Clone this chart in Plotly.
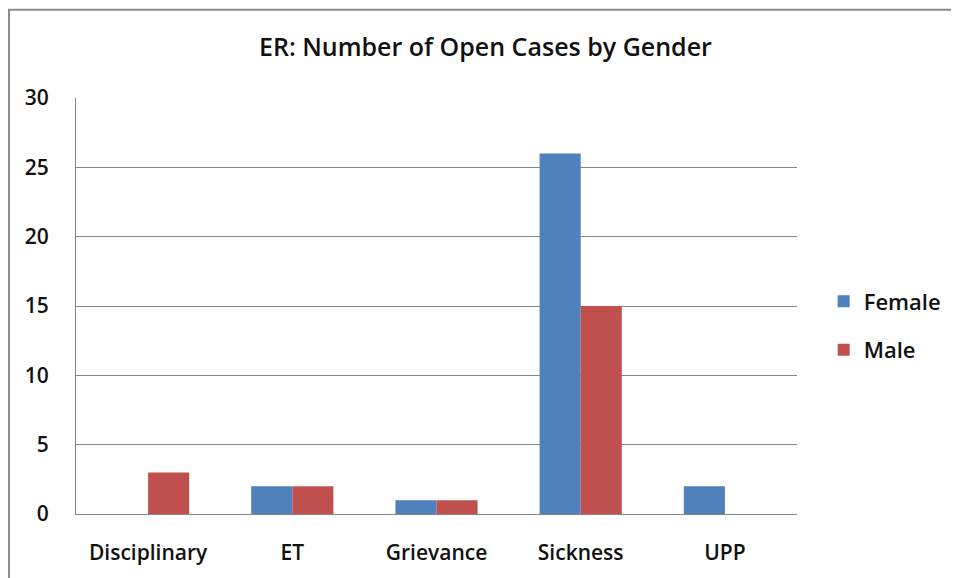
import plotly.graph_objects as go

categories = ['Disciplinary', 'ET', 'Grievance', 'Sickness', 'UPP']
female = [0, 2, 1, 26, 2]
male = [3, 2, 1, 15, 0]
y_ticks = [0, 5, 10, 15, 20, 25, 30]

font_family = "Open Sans, Noto Sans, sans-serif"

fig = go.Figure()
fig.add_trace(
    go.Bar(
        x=categories,
        y=female,
        name='Female',
        legendgroup='f',
        marker=dict(color='#4F81BD', line=dict(width=0)))
)
fig.add_trace(
    go.Bar(
        x=categories,
        y=male,
        name='Male',
        legendgroup='m',
        marker=dict(color='#C0504D', line=dict(width=0)))
)

# outer chart border (page has an 8px body margin, so figure is 951x570)
fig.add_shape(type='rect', xref='paper', yref='paper',
              x0=-0.0929, x1=1.3, y0=-0.3, y1=1.212,
              line=dict(color='#8c8c8c', width=2), layer='below')

fig.update_layout(
    width=951, height=570,
    margin=dict(l=68, r=162, t=90, b=60),
    paper_bgcolor='white',
    plot_bgcolor='white',
    barmode='group',
    bargap=0.43,
    bargroupgap=0,
    title=dict(text='ER: Number of Open Cases by Gender',
               x=0.502, xanchor='center', y=0.932, yanchor='middle',
               font=dict(family=font_family, size=25, color='#111', weight=600)),
    legend=dict(x=1.037, y=0.452, xanchor='left', yanchor='middle',
                font=dict(family=font_family, size=22, color='#111', weight=600),
                tracegroupgap=17, itemwidth=30),
    xaxis=dict(showline=True, linecolor='#868686', linewidth=1,
               ticks='outside', ticklen=0, ticklabelstandoff=20,
               tickfont=dict(family=font_family, size=21, color='#111', weight=600),
               showgrid=False),
    yaxis=dict(range=[0, 30], tickvals=y_ticks,
               showline=True, linecolor='#868686', linewidth=1,
               showgrid=True, gridcolor='#868686', gridwidth=1,
               zeroline=False, ticks='', ticklabelstandoff=22,
               tickfont=dict(family=font_family, size=21, color='#111', weight=600)),
)

fig.write_html("out.html")
